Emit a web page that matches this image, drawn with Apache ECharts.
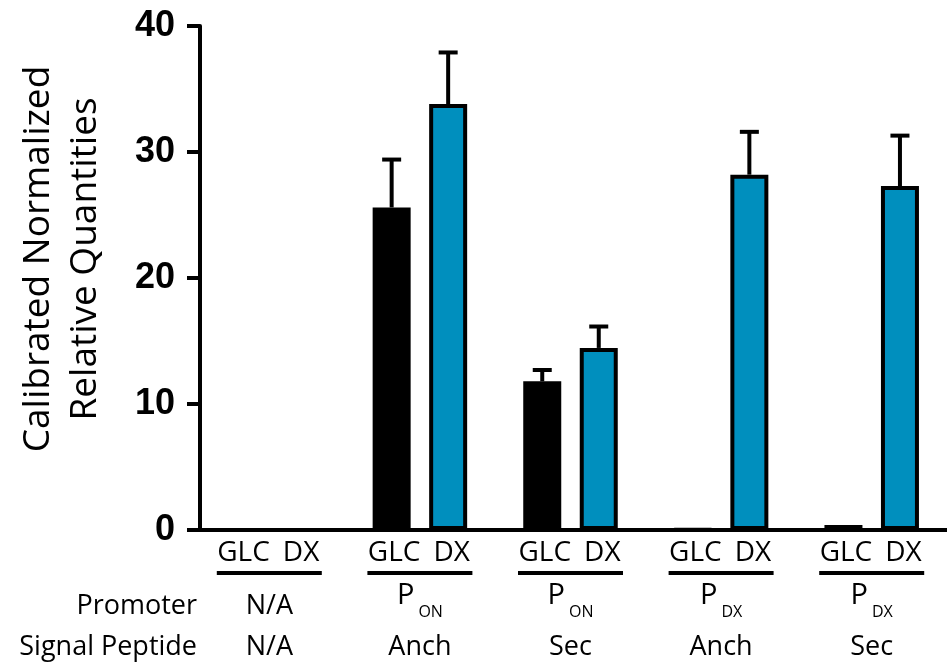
<!DOCTYPE html>
<html>
<head>
<meta charset="utf-8">
<script src="https://cdn.jsdelivr.net/npm/echarts@6/dist/echarts.min.js"></script>
<style>
  html, body { margin: 0; padding: 0; background: #fff; }
  #chart { width: 947px; height: 667px; }
</style>
</head>
<body>
<div id="chart"></div>
<script>
// groups along the x axis, two conditions per group
const groups        = ['g1', 'g2', 'g3', 'g4', 'g5'];
const conditions    = ['GLC', 'DX'];
const promoter      = ['N/A', 'P', 'P', 'P', 'P'];
const promoterSub   = ['', 'ON', 'ON', 'DX', 'DX'];
const signalPeptide = ['N/A', 'Anch', 'Sec', 'Anch', 'Sec'];

const glcMean = [null, 25.6, 11.8, 0.05, 0.4];
const glcErr  = [null, 3.8, 0.9, null, null];
const dxMean  = [null, 33.8, 14.45, 28.2, 27.3];
const dxErr   = [null, 4.1, 1.7, 3.4, 4.0];

const yTicks = [0, 10, 20, 30, 40];

const FONT = "'Open Sans', sans-serif";
const BLUE = '#008fbe';
const BAR_W = 38;
const BAR_GAP = 0.487;

const chart = echarts.init(document.getElementById('chart'), null, { renderer: 'canvas' });

function errorSeries(means, errs, slot) {
    const data = groups
        .map((g, i) => [i, means[i], errs[i]])
        .filter((d) => d[1] != null && d[2] != null);
    return {
        type: 'custom',
        xAxisIndex: 0,
        yAxisIndex: 0,
        encode: { x: 0, y: 1 },
        z: 5,
        data: data,
        renderItem(params, api) {
            const i = api.value(0);
            const m = api.value(1);
            const e = api.value(2);
            const shift = slot * BAR_W * (1 + BAR_GAP) / 2;
            const base = api.coord([i, m]);
            const top  = api.coord([i, m + e]);
            const x = base[0] + shift;
            const st = { stroke: '#000', lineWidth: 4 };
            return {
                type: 'group',
                children: [
                    { type: 'line', shape: { x1: x, y1: base[1], x2: x, y2: top[1] }, style: st },
                    { type: 'line', shape: { x1: x - 9.5, y1: top[1], x2: x + 9.5, y2: top[1] }, style: st }
                ]
            };
        }
    };
}

const rowAxis = (offset, name, formatter, rich) => ({
    type: 'category',
    gridIndex: 0,
    position: 'bottom',
    offset: offset,
    data: groups,
    name: name,
    nameLocation: 'start',
    nameGap: -3,
    nameTextStyle: { fontFamily: FONT, fontSize: 27, color: '#000' },
    axisLine: { show: false },
    axisTick: { show: false },
    axisLabel: {
        interval: 0,
        margin: 0,
        verticalAlign: 'middle',
        color: '#000',
        fontFamily: FONT,
        formatter: formatter,
        rich: rich
    }
});

const option = {
    animation: false,
    backgroundColor: '#fff',
    grid: { left: 194, top: 26, width: 764.5, height: 504 },
    xAxis: [
        {
            type: 'category',
            data: groups,
            axisLine: { lineStyle: { color: '#000', width: 4 } },
            axisTick: { show: false },
            axisLabel: {
                interval: 0,
                margin: 6,
                color: '#000',
                fontFamily: FONT,
                formatter: () => `{g|${conditions[0]}}{d|${conditions[1]}}\n{u| }`,
                rich: {
                    g: { fontFamily: FONT, fontSize: 28, lineHeight: 35, color: '#000' },
                    d: { fontFamily: FONT, fontSize: 28, lineHeight: 35, color: '#000', padding: [0, 2, 0, 13] },
                    u: { width: 105, height: 4, lineHeight: 4, fontSize: 4, backgroundColor: '#000' }
                }
            }
        },
        rowAxis(76, 'Promoter',
            (v, i) => promoterSub[i] ? `{p|${promoter[i]}}{s|${promoterSub[i]}}` : `{n|${promoter[i]}}`,
            {
                p: { fontFamily: FONT, fontSize: 29, lineHeight: 28, color: '#000', padding: [0, 0, 20, 0] },
                s: { fontFamily: FONT, fontSize: 16, lineHeight: 16, color: '#000', padding: [12, 0, 0, 4] },
                n: { fontFamily: FONT, fontSize: 27, lineHeight: 30, color: '#000' }
            }),
        rowAxis(117, 'Signal Peptide',
            (v, i) => `{n|${signalPeptide[i]}}`,
            { n: { fontFamily: FONT, fontSize: 27, lineHeight: 30, color: '#000' } })
    ],
    yAxis: {
        type: 'value',
        min: yTicks[0],
        max: yTicks[yTicks.length - 1],
        interval: yTicks[1] - yTicks[0],
        offset: -6,
        name: 'Calibrated Normalized\nRelative Quantities',
        nameLocation: 'middle',
        nameRotate: 90,
        nameGap: 91,
        nameTextStyle: {
            fontFamily: FONT, fontSize: 37, lineHeight: 47, color: '#000',
            padding: [0, 0, 0, 38]
        },
        splitLine: { show: false },
        axisLine: { show: true, lineStyle: { color: '#000', width: 4 } },
        axisTick: { show: true, length: 13, lineStyle: { color: '#000', width: 4 } },
        axisLabel: {
            margin: 25,
            color: '#000',
            fontFamily: "'Liberation Sans', Arial, sans-serif",
            fontWeight: 'bold',
            fontSize: 36
        }
    },
    series: [
        {
            name: conditions[0],
            type: 'bar',
            data: glcMean,
            barWidth: BAR_W,
            barGap: (BAR_GAP * 100) + '%',
            itemStyle: { color: '#000', borderColor: '#000', borderWidth: 4 }
        },
        {
            name: conditions[1],
            type: 'bar',
            data: dxMean,
            barWidth: BAR_W,
            barGap: (BAR_GAP * 100) + '%',
            itemStyle: { color: BLUE, borderColor: '#000', borderWidth: 4 }
        },
        errorSeries(glcMean, glcErr, -1),
        errorSeries(dxMean, dxErr, 1)
    ]
};

chart.setOption(option);
</script>
</body>
</html>
